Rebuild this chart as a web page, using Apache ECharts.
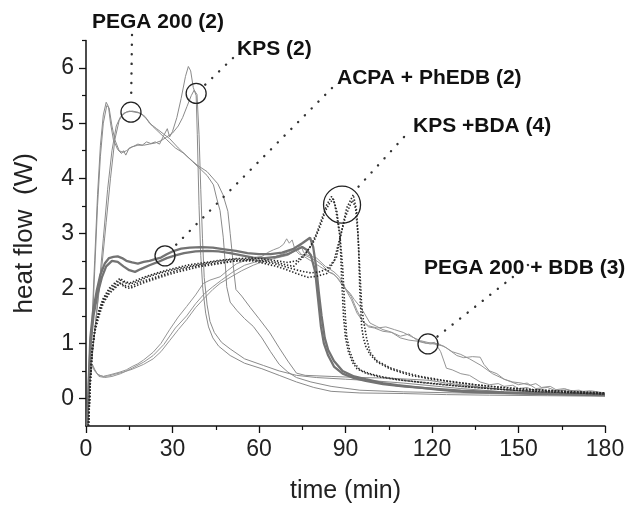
<!DOCTYPE html>
<html>
<head>
<meta charset="utf-8">
<script src="https://cdn.jsdelivr.net/npm/echarts@6/dist/echarts.min.js"></script>
<style>
html,body{margin:0;padding:0;background:#fff;}
#chart{width:631px;height:509px;}
</style>
</head>
<body>
<div id="chart"></div>
<script>
// ---------- tick labels ----------
const xTicks = [0, 30, 60, 90, 120, 150, 180];
const yTicks = [0, 1, 2, 3, 4, 5, 6];
const yMinorTicks = [0.5, 1.5, 2.5, 3.5, 4.5, 5.5, 6.5];

// ---------- series values [time (min), heat flow (W)] ----------
const kps1 = [[0.4,-0.5],[1,0.3],[2,1.3],[3,2.5],[4,3.7],[5,4.6],[6,5.15],[7,5.38],[7.8,5.3],[8.5,5.0],[9.5,4.7],[11,4.52],[12.3,4.45],[13,4.5],[13.8,4.42],[15,4.55],[16.5,4.58],[18,4.62],[19.5,4.6],[21,4.66],[22.5,4.63],[24,4.66],[25.5,4.62],[27,4.78],[28.2,4.9],[29,4.75],[30,4.85],[31.5,5.1],[33,5.45],[34.5,5.85],[35.5,6.03],[36.3,5.95],[37.2,5.65],[38.2,5.5],[38.6,4.8],[39.2,3.5],[39.8,2.6],[40.5,2.0],[41.5,1.55],[42.5,1.3],[44,1.1],[46,0.95],[50,0.78],[55,0.64],[61,0.54],[67,0.42],[73,0.3],[79,0.2],[85,0.13],[95,0.1],[110,0.09],[125,0.07],[140,0.06],[160,0.05],[180,0.04]];
const kps2 = [[0.4,-0.5],[1,0.2],[2,1.1],[3,2.3],[4,3.5],[5,4.4],[6,5.0],[7.2,5.32],[8,5.28],[9,4.95],[10,4.7],[11.5,4.5],[12.8,4.47],[14,4.5],[16,4.57],[18,4.6],[20,4.6],[22,4.62],[24,4.64],[26,4.68],[28,4.75],[30,4.82],[32,4.95],[33.5,5.1],[35,5.3],[36.5,5.5],[37.5,5.6],[38.5,5.52],[39.2,4.8],[39.8,3.8],[40.4,2.9],[41,2.2],[42,1.7],[43,1.4],[44.5,1.2],[47,1.02],[50,0.9],[55,0.72],[61.5,0.6],[67,0.5],[73,0.42],[80,0.38],[90,0.35],[100,0.32],[110,0.28],[120,0.23],[130,0.18],[145,0.12],[160,0.1],[180,0.06]];
const pega1 = [[0.5,-0.5],[1.2,0.3],[2.5,1.0],[4,1.7],[5.5,2.4],[7,3.2],[8.5,4.0],[10,4.7],[11.5,5.05],[13,5.18],[15,5.22],[17,5.2],[19,5.18],[20.5,5.12],[22,5.0],[24.5,4.9],[27,4.8],[29,4.72],[32,4.55],[35,4.4],[38.5,4.24],[42,4.12],[45.7,3.9],[47.5,3.7],[49.2,3.4],[50,3.0],[50.6,2.69],[51.3,2.3],[52,1.98],[54,1.86],[57,1.65],[60,1.45],[63.8,1.19],[67,0.92],[70,0.68],[73,0.46],[76,0.42],[85,0.4],[95,0.38],[105,0.37],[119,0.33],[125,0.28],[135,0.22],[145,0.16],[160,0.1],[180,0.06]];
const pega2 = [[0.5,-0.5],[1.5,0.4],[3,1.2],[4.5,2.0],[6,2.9],[7.5,3.8],[9,4.5],[10.5,4.95],[12,5.12],[14,5.2],[16,5.22],[18,5.2],[19.5,5.15],[21,5.08],[23,4.95],[25,4.85],[28,4.7],[31,4.55],[34,4.45],[37,4.3],[40,4.15],[42,4.05],[44.2,3.88],[45.3,3.64],[46.5,3.41],[47.6,2.93],[48.3,2.45],[48.8,2.03],[50,1.75],[52.3,1.6],[55,1.45],[58,1.31],[61,1.1],[64,0.85],[67,0.62],[70,0.48],[73,0.38],[78,0.3],[85,0.22],[95,0.15],[110,0.12],[130,0.1],[150,0.08],[180,0.05]];
const acpa1 = [[0.5,-0.5],[1,0.4],[1.5,1.1],[2.5,1.6],[3.7,1.95],[5,2.25],[6.5,2.45],[8,2.55],[9.5,2.57],[11,2.58],[12.5,2.55],[14,2.5],[16,2.47],[18,2.45],[20,2.48],[22,2.5],[24,2.53],[26,2.56],[28,2.62],[30,2.67],[33,2.72],[36,2.74],[40,2.75],[44,2.74],[48,2.71],[52,2.68],[56,2.64],[60,2.62],[64,2.62],[68,2.65],[72,2.72],[75,2.82],[77.7,2.92],[78.8,2.75],[79.8,2.4],[80.8,1.9],[81.7,1.5],[82.8,1.1],[84,0.88],[86,0.68],[89,0.5],[93,0.4],[97,0.35],[103,0.28],[108,0.24],[115,0.2],[122,0.16],[131,0.12],[145,0.1],[160,0.08],[180,0.06]];
const acpa2 = [[0.5,-0.5],[1,0.3],[1.6,1.0],[2.6,1.5],[4,1.9],[5.5,2.2],[7,2.4],[9,2.5],[11,2.48],[13,2.4],[15,2.33],[17,2.3],[19,2.35],[22,2.42],[25,2.48],[28,2.55],[31,2.6],[34,2.64],[38,2.67],[42,2.68],[46,2.67],[50,2.64],[54,2.6],[58,2.56],[62,2.55],[66,2.57],[70,2.62],[73,2.7],[75,2.75],[76.5,2.7],[78,2.6],[79.5,2.3],[80.5,1.8],[81.5,1.3],[82.5,1.0],[84,0.78],[86,0.58],[89,0.45],[93,0.37],[97,0.32],[103,0.26],[110,0.22],[120,0.18],[130,0.14],[145,0.11],[160,0.09],[180,0.07]];
const bda1 = [[0.8,-0.5],[1.4,0.2],[2,0.8],[3,1.2],[4.5,1.5],[6,1.73],[8,1.9],[10,2.0],[11.8,2.09],[13.5,2.02],[15.3,2.0],[18,2.06],[21,2.12],[24,2.17],[28,2.24],[32,2.3],[36,2.35],[40,2.4],[46.5,2.45],[52,2.5],[58,2.52],[62,2.5],[66,2.47],[70,2.42],[72,2.4],[75,2.55],[77.7,2.75],[80,3.0],[82,3.3],[83.5,3.52],[85.2,3.67],[86.2,3.55],[86.9,3.34],[88.1,2.93],[88.7,2.15],[89.3,1.5],[90,1.1],[91,0.85],[92.5,0.65],[94,0.54],[97,0.46],[102,0.39],[108,0.34],[115,0.3],[125,0.25],[135,0.2],[145,0.16],[160,0.12],[180,0.08]];
const bda2 = [[0.9,-0.5],[1.5,0.3],[2.2,0.9],[3.2,1.3],[4.5,1.6],[6,1.82],[8,2.0],[10,2.1],[11.8,2.18],[13.5,2.12],[15.3,2.1],[18,2.16],[21,2.22],[24,2.27],[28,2.33],[32,2.38],[35,2.42],[40,2.46],[46.5,2.51],[52,2.54],[58,2.55],[62,2.53],[66,2.5],[70,2.47],[73,2.5],[76,2.62],[79,2.85],[81,3.1],[83,3.4],[84.5,3.55],[85.8,3.62],[87,3.4],[88,3.0],[89,2.4],[89.7,1.7],[90.4,1.13],[91.5,0.85],[93,0.65],[95,0.52],[99,0.44],[104,0.38],[110,0.33],[120,0.27],[130,0.22],[140,0.18],[155,0.13],[170,0.1],[180,0.08]];
const bda3 = [[0.8,-0.5],[1.4,0.25],[2.1,0.85],[3,1.22],[4.5,1.55],[6,1.76],[8,1.93],[10,2.03],[11.8,2.1],[13.5,2.05],[15.3,2.03],[18,2.1],[21,2.15],[24,2.2],[28,2.27],[32,2.33],[36,2.38],[40,2.42],[46.5,2.47],[52,2.5],[58,2.5],[62,2.45],[66,2.4],[70,2.33],[74,2.25],[77,2.2],[80,2.22],[83.5,2.27],[86.9,2.57],[88.5,3.0],[90.4,3.46],[92.7,3.7],[93.9,3.4],[94.5,2.8],[95,1.9],[95.6,1.3],[96.2,1.1],[97,0.95],[98.5,0.8],[101,0.66],[105.4,0.54],[112.4,0.42],[120,0.35],[130,0.28],[140,0.22],[155,0.16],[170,0.12],[180,0.1]];
const bda4 = [[0.9,-0.5],[1.5,0.3],[2.2,0.9],[3.2,1.28],[4.5,1.58],[6,1.8],[8,1.97],[10,2.07],[11.8,2.15],[13.5,2.1],[15.3,2.08],[18,2.13],[21,2.2],[24,2.25],[28,2.31],[32,2.36],[36,2.4],[40,2.44],[46.5,2.5],[52,2.53],[58,2.52],[62,2.48],[66,2.44],[70,2.38],[74,2.32],[78,2.28],[81,2.3],[83.5,2.35],[86,2.5],[88,2.9],[90,3.3],[91.5,3.5],[92.5,3.6],[93.5,3.45],[94.3,3.0],[95,2.3],[95.6,1.7],[96.2,1.43],[97.3,1.1],[98.5,0.84],[101,0.68],[105.4,0.56],[110,0.48],[116,0.4],[125,0.32],[135,0.25],[148,0.18],[165,0.13],[180,0.1]];
const bdb1 = [[0.5,-0.5],[1.2,0.3],[2,0.63],[2.8,0.55],[3.8,0.45],[4.9,0.42],[6,0.4],[7.5,0.42],[9,0.44],[11.8,0.48],[14,0.52],[16,0.58],[18,0.63],[20,0.7],[23.3,0.84],[26,1.0],[29,1.25],[32,1.48],[34.9,1.67],[38,1.88],[40.7,2.09],[43,2.15],[46.5,2.21],[49,2.32],[52.3,2.45],[55,2.5],[58,2.55],[61,2.58],[63,2.65],[65,2.7],[67,2.74],[68.5,2.8],[69.6,2.9],[70.5,2.82],[71.5,2.88],[72.5,2.7],[74,2.62],[76,2.6],[78,2.55],[80,2.5],[82,2.42],[84,2.3],[85.7,2.27],[87,2.2],[89,2.05],[91.6,1.91],[93,1.8],[95,1.67],[96.5,1.55],[98.5,1.37],[100.8,1.31],[103,1.25],[105,1.22],[107,1.18],[109,1.13],[112,1.17],[115,1.05],[119.3,0.99],[122,1.0],[125,0.92],[128.6,0.78],[131,0.74],[134,0.76],[136.7,0.75],[138,0.62],[140,0.5],[142.5,0.45],[145,0.35],[148,0.3],[151,0.28],[154,0.24],[156,0.27],[158,0.2],[161,0.22],[163,0.16],[166,0.18],[168,0.14],[171,0.15],[174,0.1],[177,0.12],[180,0.06]];
const bdb2 = [[0.5,-0.5],[1.2,0.3],[2,0.6],[3,0.5],[4.5,0.42],[6,0.4],[8,0.41],[10,0.44],[13,0.48],[16,0.53],[20,0.62],[23.3,0.72],[26,0.85],[29,1.05],[32,1.25],[34.9,1.43],[38,1.65],[41,1.82],[44,1.98],[46.5,2.09],[50,2.2],[54,2.32],[58,2.42],[62,2.5],[66,2.55],[70,2.6],[73,2.7],[74.5,2.78],[75.5,2.65],[77,2.6],[80,2.55],[83,2.4],[86,2.3],[88,2.2],[90,2.0],[92,1.85],[94,1.6],[96,1.4],[98,1.3],[100,1.28],[103,1.22],[106,1.2],[109,1.1],[112,1.06],[115,1.04],[118,1.0],[121,1.02],[123,0.85],[125,0.55],[127,0.52],[130,0.45],[133,0.42],[136.7,0.3],[140,0.25],[143,0.27],[145,0.22],[148,0.24],[150,0.18],[153,0.2],[155,0.15],[158,0.17],[160,0.13],[165,0.15],[170,0.1],[175,0.12],[180,0.08]];
const bdb3 = [[0.5,-0.5],[1.3,0.3],[2.2,0.62],[3,0.52],[4.5,0.4],[6.5,0.38],[9,0.4],[12,0.45],[16,0.55],[20,0.66],[23.3,0.78],[27,0.98],[31,1.28],[34.9,1.5],[38,1.72],[41,1.9],[44,2.03],[47,2.15],[51,2.3],[55,2.42],[60,2.5],[64,2.55],[68,2.62],[71,2.68],[73,2.72],[75,2.6],[78,2.5],[81,2.4],[84,2.3],[86,2.25],[88,2.15],[90,1.98],[92,1.8],[94,1.55],[96,1.4],[98,1.32],[101,1.28],[104,1.3],[107,1.25],[110,1.2],[113,1.12],[116,1.05],[120,1.0],[124,0.95],[127,0.85],[130,0.8],[133,0.72],[137,0.6],[141,0.45],[145,0.35],[150,0.25],[153,0.28],[156,0.18],[160,0.2],[163,0.14],[167,0.16],[170,0.12],[175,0.14],[180,0.1]];

// ---------- annotations (data coordinates of circled points) ----------
const annoLabels = ['PEGA 200 (2)', 'KPS (2)', 'ACPA + PhEDB (2)', 'KPS +BDA (4)', 'PEGA 200 + BDB (3)'];
const annoTime = [15.6, 38.2, 27.4, 88.8, 118.6];
const annoHeat = [5.20, 5.54, 2.59, 3.52, 0.99];

// ---------- styling / layout ----------
const FONT = '"Liberation Sans", Arial, Helvetica, sans-serif';
const annoTextPos = [[92,22],[237,49],[337,78],[413,126],[424,268]];
const annoLeadFrom = [[132,35],[233,58],[332,88],[404,137],[528,265]];
const annoRadius = [10, 10, 10, 18.5, 10];

const thin = {color:'#8a8a8a', width:1.0};
const thinB = {color:'#959595', width:1.0};
const thick = {color:'#737373', width:2.3};
const dots = {color:'#2a2a2a', width:1.6, type:[1.4,1.8]};

function line(name, data, style, z) {
  return {name, type:'line', data, showSymbol:false, symbol:'none', z: z||2,
    lineStyle:{color:style.color, width:style.width, type:style.type||'solid'}, animation:false, silent:true};
}

const chart = echarts.init(document.getElementById('chart'), null, {renderer:'canvas'});
const option = {
  animation:false,
  backgroundColor:'#fff',
  grid:{left:86, right:26, top:40.6, bottom:77.7, containLabel:false},
  xAxis:{
    type:'value', min:0, max:180, interval:30,
    axisLine:{show:true, onZero:false, lineStyle:{color:'#111', width:1.5}},
    axisTick:{show:true, inside:false, length:7, lineStyle:{color:'#111', width:1.3}},
    minorTick:{show:true, splitNumber:2, length:4, lineStyle:{color:'#111', width:1.2}},
    splitLine:{show:false},
    axisLabel:{fontSize:23, color:'#222', fontFamily:FONT, margin:12,
      formatter:(v)=> xTicks.includes(v) ? String(v) : ''},
    name:'time (min)', nameLocation:'middle', nameGap:53,
    nameTextStyle:{fontSize:25, color:'#222', fontFamily:FONT}
  },
  yAxis:[{
    type:'value', min:-0.5, max:6.5,
    axisLine:{show:true, onZero:false, lineStyle:{color:'#111', width:1.5}},
    axisTick:{show:true, inside:false, length:7, customValues:yTicks, lineStyle:{color:'#111', width:1.3}},
    splitLine:{show:false},
    axisLabel:{fontSize:23, color:'#222', fontFamily:FONT, margin:12, customValues:yTicks},
    name:'heat flow  (W)', nameLocation:'middle', nameGap:48, nameRotate:90,
    nameTextStyle:{fontSize:26, color:'#222', fontFamily:FONT}
  },{
    type:'value', min:-0.5, max:6.5, position:'left',
    axisLine:{show:false},
    axisTick:{show:true, inside:false, length:4, customValues:yMinorTicks, lineStyle:{color:'#111', width:1.2}},
    splitLine:{show:false},
    axisLabel:{show:false}
  }],
  series:[
    line('PEGA 200 + BDB 1', bdb1, thinB),
    line('PEGA 200 + BDB 2', bdb2, thinB),
    line('PEGA 200 + BDB 3', bdb3, thinB),
    line('PEGA 200 1', pega1, thin),
    line('PEGA 200 2', pega2, thin),
    line('KPS 1', kps1, thin),
    line('KPS 2', kps2, thin),
    line('ACPA + PhEDB 1', acpa1, thick, 3),
    line('ACPA + PhEDB 2', acpa2, thick, 3),
    line('KPS + BDA 1', bda1, dots, 4),
    line('KPS + BDA 2', bda2, dots, 4),
    line('KPS + BDA 3', bda3, dots, 4),
    line('KPS + BDA 4', bda4, dots, 4)
  ]
};
chart.setOption(option);

// annotations: circles at data points, dotted leaders, bold labels
const graphics = [];
annoLabels.forEach((txt, i) => {
  const c = chart.convertToPixel({gridIndex:0}, [annoTime[i], annoHeat[i]]);
  const r = annoRadius[i];
  const from = annoLeadFrom[i];
  const dx = from[0]-c[0], dy = from[1]-c[1];
  const d = Math.sqrt(dx*dx+dy*dy);
  const ex = c[0] + dx/d*(r+2), ey = c[1] + dy/d*(r+2);
  graphics.push({type:'circle', shape:{cx:c[0], cy:c[1], r:r}, z:10,
    style:{fill:null, stroke:'#222', lineWidth:1.3}});
  graphics.push({type:'line', shape:{x1:from[0], y1:from[1], x2:ex, y2:ey}, z:10,
    style:{stroke:'#333', lineWidth:2.4, lineDash:[0.1, 9.5], lineCap:'round'}});
  graphics.push({type:'text', x:annoTextPos[i][0], y:annoTextPos[i][1], z:11,
    style:{text:txt, fill:'#111', font:'bold 21px ' + FONT, textAlign:'left', textVerticalAlign:'middle'}});
});
chart.setOption({graphic:graphics});
</script>
</body>
</html>
